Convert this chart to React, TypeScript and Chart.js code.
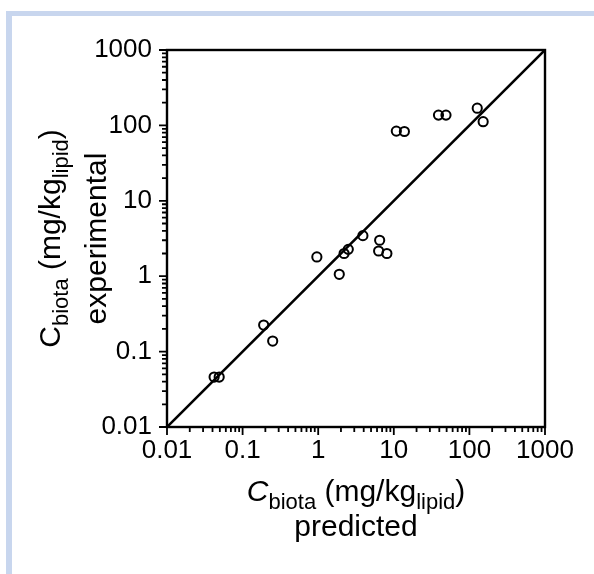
import React, { useEffect, useRef } from 'react';
import { Chart, registerables } from 'chart.js';

Chart.register(...registerables);

// ---- data ----
const PREDICTED = [0.042, 0.049, 0.19, 0.25, 0.96, 1.9, 2.2, 2.5, 3.9, 6.3, 6.5, 8.1, 10.8, 13.8, 39, 49, 127, 152];
const EXPERIMENTAL = [0.046, 0.046, 0.225, 0.138, 1.8, 1.06, 2.0, 2.27, 3.45, 2.16, 3.0, 2.0, 84, 83, 137, 137, 169, 112];

const IDENTITY_LINE = [0.01, 1000];

const AXIS_MIN = 0.01;
const AXIS_MAX = 1000;
const TICK_EXPONENTS = [-2, -1, 0, 1, 2, 3];
const TICK_LABELS = ['0.01', '0.1', '1', '10', '100', '1000'];
const MINOR_MULTIPLIERS = [2, 3, 4, 5, 6, 7, 8, 9];

type Seg = { t: string; italic?: boolean; sub?: boolean };
const X_TITLE_LINE1: Seg[] = [
  { t: 'C', italic: true },
  { t: 'biota', sub: true },
  { t: ' (mg/kg' },
  { t: 'lipid', sub: true },
  { t: ')' },
];
const X_TITLE_LINE2 = 'predicted';
const Y_TITLE_LINE1: Seg[] = [
  { t: 'C' },
  { t: 'biota', sub: true },
  { t: ' (mg/kg' },
  { t: 'lipid', sub: true },
  { t: ')' },
];
const Y_TITLE_LINE2 = 'experimental';

const FONT = '"Liberation Sans", Arial, Helvetica, sans-serif';
const TITLE_SIZE = 30;
const SUB_SIZE = 22;

function buildTicks() {
  const ticks: { value: number; major: boolean }[] = [];
  TICK_EXPONENTS.forEach((e, i) => {
    const base = Math.pow(10, e);
    ticks.push({ value: base, major: true });
    if (i < TICK_EXPONENTS.length - 1) {
      MINOR_MULTIPLIERS.forEach((m) => ticks.push({ value: parseFloat((m * base).toPrecision(6)), major: false }));
    }
  });
  return ticks;
}

function tickLabel(value: number) {
  const l = Math.log10(value);
  const e = Math.round(l);
  if (Math.abs(l - e) > 1e-9) return '';
  const idx = TICK_EXPONENTS.indexOf(e);
  return idx >= 0 ? TICK_LABELS[idx] : '';
}

function segFont(s: Seg) {
  return `${s.italic ? 'italic ' : ''}${s.sub ? SUB_SIZE : TITLE_SIZE}px ${FONT}`;
}

function drawSegments(ctx: CanvasRenderingContext2D, segs: Seg[], cx: number, baseline: number, subDrop: number) {
  let total = 0;
  segs.forEach((s) => {
    ctx.font = segFont(s);
    total += ctx.measureText(s.t).width;
  });
  let x = cx - total / 2;
  ctx.textAlign = 'left';
  ctx.textBaseline = 'alphabetic';
  segs.forEach((s) => {
    ctx.font = segFont(s);
    ctx.fillText(s.t, x, s.sub ? baseline + subDrop : baseline);
    x += ctx.measureText(s.t).width;
  });
}

const decorPlugin = {
  id: 'decor',
  afterDraw(chart: any) {
    const { ctx, chartArea } = chart;
    const { left, right, top, bottom } = chartArea;
    const xs = chart.scales.x;
    const ys = chart.scales.y;
    ctx.save();
    ctx.strokeStyle = '#000';
    ctx.fillStyle = '#000';
    // tick marks
    ctx.lineWidth = 1.8;
    ctx.beginPath();
    xs.ticks.forEach((t: any) => {
      const p = xs.getPixelForValue(t.value);
      const len = t.major ? 8 : 5;
      ctx.moveTo(p, bottom);
      ctx.lineTo(p, bottom + len);
    });
    ys.ticks.forEach((t: any) => {
      const p = ys.getPixelForValue(t.value);
      const len = t.major ? 8 : 5;
      ctx.moveTo(left - len, p);
      ctx.lineTo(left, p);
    });
    ctx.stroke();
    // frame
    ctx.lineWidth = 2.4;
    ctx.strokeRect(left, top, right - left, bottom - top);
    // x title
    const cx = (left + right) / 2;
    drawSegments(ctx, X_TITLE_LINE1, cx, 501, 7.5);
    ctx.font = `${TITLE_SIZE}px ${FONT}`;
    ctx.textAlign = 'center';
    ctx.fillText(X_TITLE_LINE2, cx, 536);
    // y title
    const cy = (top + bottom) / 2;
    ctx.translate(0, cy);
    ctx.rotate(-Math.PI / 2);
    drawSegments(ctx, Y_TITLE_LINE1, 0, 60, 8);
    ctx.font = `${TITLE_SIZE}px ${FONT}`;
    ctx.textAlign = 'center';
    ctx.fillText(Y_TITLE_LINE2, 0, 106);
    ctx.restore();
  },
};

function axisOptions(isX: boolean) {
  return {
    type: 'logarithmic' as const,
    min: AXIS_MIN,
    max: AXIS_MAX,
    afterBuildTicks: (scale: any) => {
      scale.ticks = buildTicks();
    },
    afterFit: (scale: any) => {
      if (isX) scale.height = 147;
      else scale.width = 167;
    },
    grid: { display: false, drawTicks: false },
    border: { display: false },
    ticks: {
      autoSkip: false,
      maxRotation: 0,
      minRotation: 0,
      color: '#000',
      padding: isX ? 8 : 15,
      font: { family: FONT, size: 26 },
      callback: (value: any) => tickLabel(Number(value)),
    },
  };
}

export default function App() {
  const ref = useRef<HTMLCanvasElement | null>(null);
  useEffect(() => {
    if (!ref.current) return;
    const chart = new Chart(ref.current, {
      type: 'scatter',
      data: {
        datasets: [
          {
            data: IDENTITY_LINE.map((v) => ({ x: v, y: v })),
            showLine: true,
            borderColor: '#000',
            borderWidth: 2.6,
            pointRadius: 0,
            fill: false,
          } as any,
          {
            data: PREDICTED.map((x, i) => ({ x, y: EXPERIMENTAL[i] })),
            pointStyle: 'circle',
            pointRadius: 4.6,
            pointBorderWidth: 2,
            borderColor: '#000',
            backgroundColor: 'rgba(0,0,0,0)',
            pointBackgroundColor: 'rgba(0,0,0,0)',
          } as any,
        ],
      },
      options: {
        animation: false,
        responsive: false,
        maintainAspectRatio: false,
        layout: { padding: { left: 0, top: 50, right: 49, bottom: 0 } },
        plugins: { legend: { display: false }, tooltip: { enabled: false } },
        scales: { x: axisOptions(true) as any, y: axisOptions(false) as any },
      },
      plugins: [decorPlugin],
    });
    return () => chart.destroy();
  }, []);

  return (
    <div style={{ position: 'fixed', left: 0, top: 0, width: 594, height: 574, background: '#fff', overflow: 'hidden' }}>
      <div
        style={{
          position: 'absolute',
          left: 6,
          top: 11,
          width: 700,
          height: 700,
          borderLeft: '6px solid #c8d6ee',
          borderTop: '5px solid #c8d6ee',
          boxSizing: 'border-box',
        }}
      />
      <canvas ref={ref} width={594} height={574} style={{ position: 'absolute', left: 0, top: 0, width: 594, height: 574 }} />
    </div>
  );
}
